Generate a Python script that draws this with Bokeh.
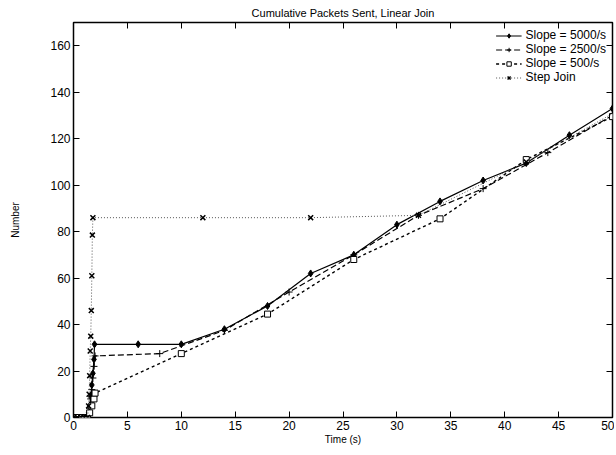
from bokeh.plotting import figure
from bokeh.models import Range1d, FixedTicker, LinearAxis, Legend, LegendItem
from bokeh.embed import file_html
from bokeh.resources import INLINE

# ---- data ----
t_5000 = [0, 0.2, 0.4, 0.6, 0.8, 1.0, 1.2, 1.3, 1.4, 1.5, 1.6, 1.7, 1.8, 1.9, 1.95, 6, 10, 14, 18, 22, 26, 30, 34, 38, 42, 46, 50]
n_5000 = [0, 0, 0, 0, 0, 0, 0, 0, 2, 5, 9, 14, 19, 25, 31.5, 31.5, 31.5, 38, 48, 62, 70, 83, 93, 102, 109.5, 121.5, 133]

t_2500 = [0, 0.3, 0.6, 0.9, 1.2, 1.3, 1.4, 1.5, 1.6, 1.7, 1.8, 1.9, 2.0, 8, 14, 20, 26, 32, 38, 44, 50]
n_2500 = [0, 0, 0, 0, 0, 0, 1, 4, 8, 12, 17, 22, 26.5, 27.5, 37.5, 54, 70, 87, 98.5, 114, 130]

t_500 = [0, 0.25, 0.5, 0.75, 1.0, 1.3, 1.5, 1.7, 1.9, 2.0, 10, 18, 26, 34, 42, 50]
n_500 = [0, 0, 0, 0, 0, 0, 2, 5, 8, 10.5, 27.5, 44.5, 68, 85.5, 111, 129.5]

t_step = [0, 0.35, 0.7, 1.0, 1.3, 1.4, 1.45, 1.5, 1.55, 1.6, 1.65, 1.7, 1.75, 1.8, 12, 22, 32, 42, 52]
n_step = [0, 0, 0, 0, 0, 5, 10, 18, 28.6, 35, 46, 61, 78.5, 86, 86, 86, 87, 110, 136]

x_ticks = [0, 5, 10, 15, 20, 25, 30, 35, 40, 45, 50]
y_ticks = [0, 20, 40, 60, 80, 100, 120, 140, 160]

FONT = "Liberation Sans"

p = figure(width=614, height=447, output_backend="svg", toolbar_location=None,
           x_range=Range1d(0, 50), y_range=Range1d(0, 170),
           title="Cumulative Packets Sent, Linear Join",
           min_border_left=73, min_border_right=2, min_border_top=9, min_border_bottom=0)

p.title.text_font = FONT
p.title.text_font_size = "11px"
p.title.text_font_style = "normal"
p.title.text_color = "black"
p.title.align = "center"
p.title.standoff = 8

p.xgrid.visible = False
p.ygrid.visible = False
p.outline_line_color = "black"
p.outline_line_width = 1.5

for ax in (p.xaxis[0], p.yaxis[0]):
    ax.major_label_text_font = FONT
    ax.major_label_text_font_size = "12px"
    ax.major_label_text_color = "black"
    ax.axis_label_text_font = FONT
    ax.axis_label_text_font_size = "10px"
    ax.axis_label_text_font_style = "normal"
    ax.axis_label_text_color = "black"
    ax.major_tick_in = 6
    ax.major_tick_out = 0
    ax.minor_tick_line_color = None
    ax.axis_line_color = None
    ax.major_tick_line_color = "black"
    ax.major_label_standoff = 3

p.xaxis.ticker = FixedTicker(ticks=x_ticks)
p.yaxis.ticker = FixedTicker(ticks=y_ticks)
p.xaxis.axis_label = "Time (s)"
p.yaxis.axis_label = "Number"
p.xaxis.axis_label_standoff = 1
p.yaxis.axis_label_standoff = 26

# mirrored ticks (top and right), no labels
blank_x = {t: "" for t in x_ticks}
blank_y = {t: "" for t in y_ticks}
top = LinearAxis(ticker=FixedTicker(ticks=x_ticks), major_tick_in=6, major_tick_out=0,
                 minor_tick_line_color=None, axis_line_color=None,
                 major_label_overrides=blank_x, major_label_standoff=0)
right = LinearAxis(ticker=FixedTicker(ticks=y_ticks), major_tick_in=6, major_tick_out=0,
                   minor_tick_line_color=None, axis_line_color=None,
                   major_label_overrides=blank_y, major_label_standoff=0)
p.add_layout(top, "above")
p.add_layout(right, "right")

# series
l1 = p.line(t_5000, n_5000, line_color="black", line_width=1.2)
m1 = p.scatter(t_5000, n_5000, marker="diamond", size=7, fill_color="black", line_color="black")

l2 = p.line(t_2500, n_2500, line_color="black", line_width=1.2, line_dash="6 3")
m2 = p.scatter(t_2500, n_2500, marker="cross", size=7, line_color="black", line_width=1)

l3 = p.line(t_500, n_500, line_color="black", line_width=1.4, line_dash="3 3")
m3 = p.scatter(t_500, n_500, marker="square", size=6, fill_color="white", line_color="black", line_width=1)

l4 = p.line(t_step, n_step, line_color="#555555", line_width=1, line_dash="1 2")
m4 = p.scatter(t_step, n_step, marker="x", size=7, line_color="black", line_width=1.5)

legend = Legend(items=[
    LegendItem(label="Slope = 5000/s", renderers=[l1, m1]),
    LegendItem(label="Slope = 2500/s", renderers=[l2, m2]),
    LegendItem(label="Slope = 500/s", renderers=[l3, m3]),
    LegendItem(label="Step Join", renderers=[l4, m4]),
], location="top_right")
legend.label_text_font = FONT
legend.label_text_font_size = "12px"
legend.label_text_color = "black"
legend.border_line_color = None
legend.background_fill_alpha = 0
legend.spacing = 0
legend.padding = 4
legend.margin = 6
legend.glyph_height = 11
legend.glyph_width = 26
legend.label_height = 11
legend.label_standoff = 4
p.add_layout(legend, "center")

open("out.html", "w").write(file_html(p, INLINE))
